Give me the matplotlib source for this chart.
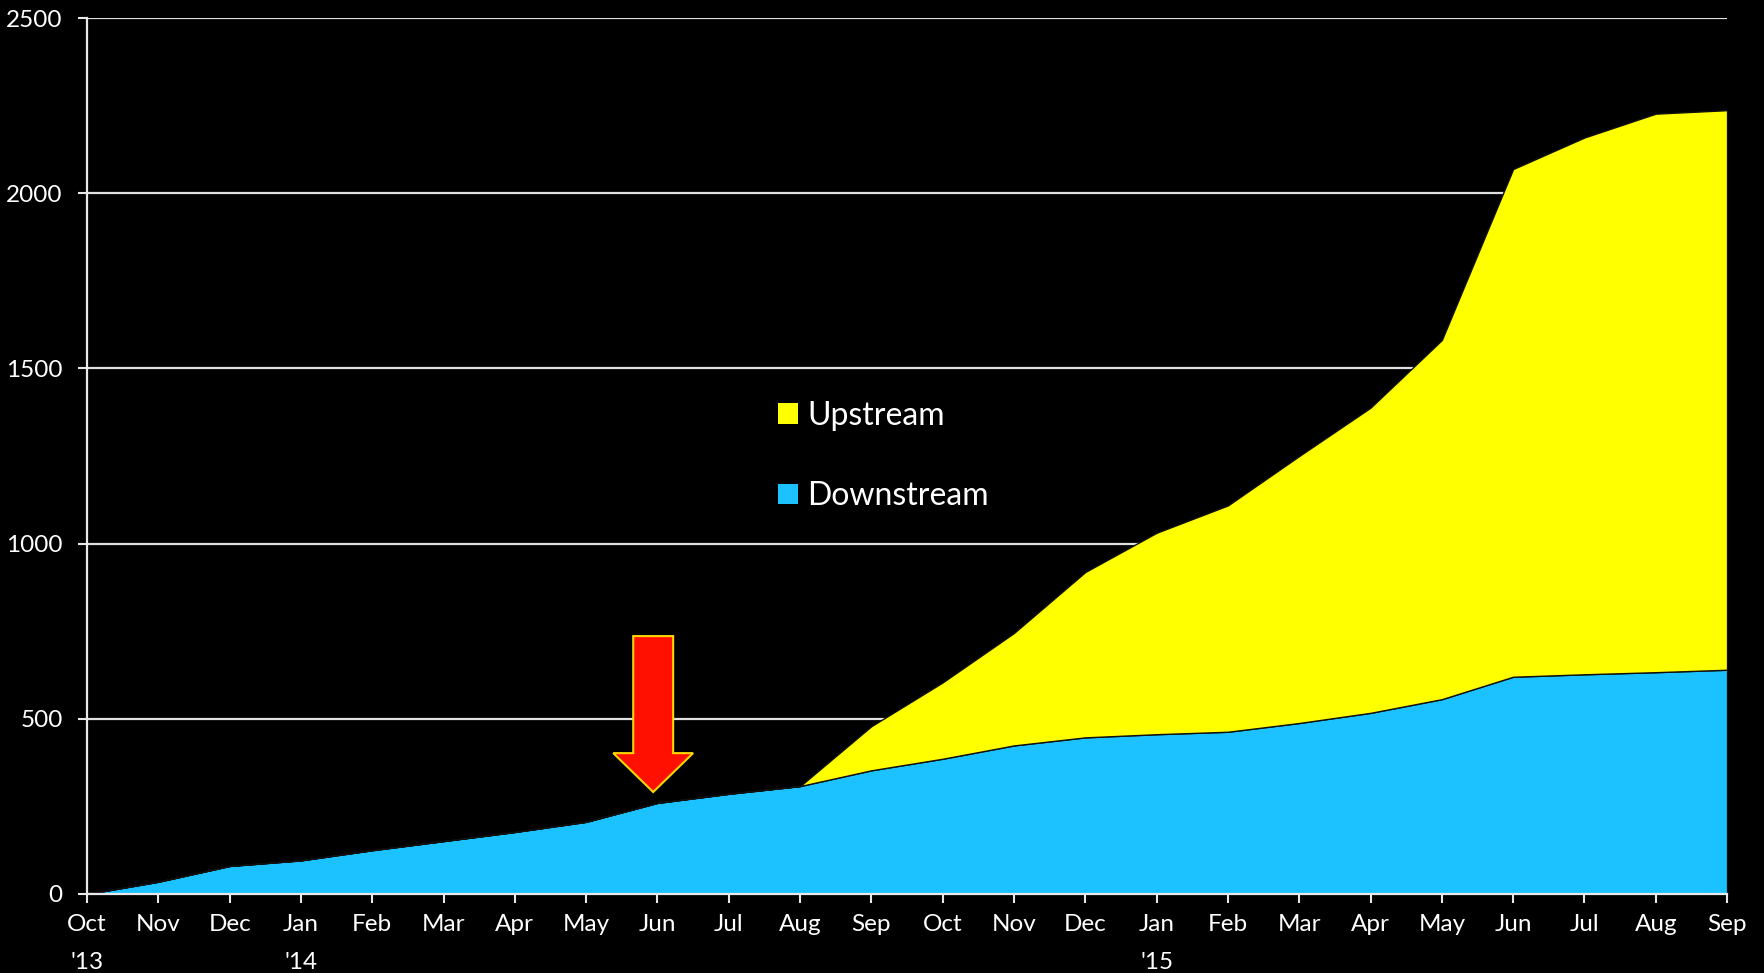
import numpy as np
import matplotlib.pyplot as plt
from matplotlib.patches import Patch, FancyArrow

plt.rcParams['font.family'] = ['Lato', 'DejaVu Sans']

# monthly cumulative counts, Oct '13 .. Sep '15
months = ["Oct\n'13", "Nov", "Dec", "Jan\n'14", "Feb", "Mar", "Apr", "May", "Jun",
          "Jul", "Aug", "Sep", "Oct", "Nov", "Dec", "Jan\n'15", "Feb", "Mar", "Apr",
          "May", "Jun", "Jul", "Aug", "Sep"]
downstream = [0, 35, 80, 96, 125, 151, 177, 206, 260, 286, 308, 353, 386, 424,
              447, 456, 463, 488, 517, 556, 620, 627, 633, 640]
upstream = [0, 0, 0, 0, 0, 0, 0, 0, 0, 0, 0, 126, 218, 321, 472, 575, 646, 762,
            871, 1025, 1449, 1532, 1594, 1597]
yticks = [0, 500, 1000, 1500, 2000, 2500]

blue = '#1CC1FF'
yellow = '#FFFF00'

fig = plt.figure(figsize=(17.65, 9.73), dpi=100, facecolor='black')
ax = fig.add_axes([0.0493, 0.0812, 0.9292, 0.9003], facecolor='black')

x = np.arange(len(months))
ax.stackplot(x, downstream, upstream, colors=[blue, yellow],
             edgecolor='#101010', linewidth=1.0, zorder=2)

# arrow marking Jun '14
arrow = FancyArrow(7.94, 736, 0, -445, width=0.56, head_width=1.12,
                   head_length=111, length_includes_head=True,
                   facecolor='#FF1000', edgecolor='#FFD700', linewidth=1.5,
                   zorder=5)
ax.add_patch(arrow)

ax.set_xlim(0, len(months) - 1)
ax.set_ylim(0, 2500)
ax.set_xticks(x)
ax.set_xticklabels(months, ha='center', va='top', linespacing=2.0)
ax.set_yticks(yticks)

ax.grid(axis='y', color='#E0E0E0', linewidth=1.6, zorder=0)
ax.set_axisbelow(True)
for s in ['top', 'right']:
    ax.spines[s].set_visible(False)
for s in ['left', 'bottom']:
    ax.spines[s].set_color('#E8E8E8')
    ax.spines[s].set_linewidth(1.6)
    ax.spines[s].set_zorder(3)

ax.tick_params(axis='both', colors='#E8E8E8', labelcolor='white',
               labelsize=17.5, length=6.5, width=1.5, direction='out')
ax.tick_params(axis='y', pad=11)
ax.tick_params(axis='x', pad=8)

handles = [Patch(facecolor=yellow, edgecolor='none', label='Upstream'),
           Patch(facecolor=blue, edgecolor='none', label='Downstream')]
leg = ax.legend(handles=handles, loc='center left', bbox_to_anchor=(0.4115, 0.5),
                frameon=False, fontsize=23, labelcolor='white',
                handlelength=0.62, handleheight=0.62, handletextpad=0.3,
                labelspacing=1.58, borderpad=0)

fig.savefig('out.png', dpi=100, facecolor='black')
